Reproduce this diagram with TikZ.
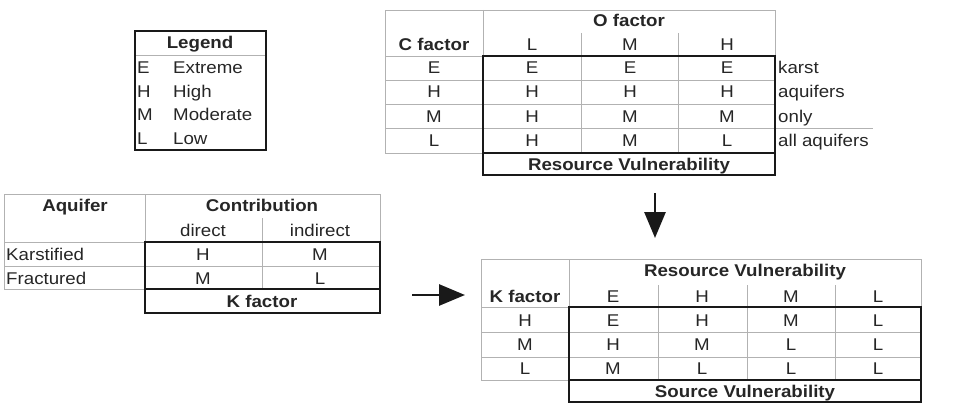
\documentclass[tikz,border=0pt]{standalone}
\usepackage{fontspec}
\setmainfont{Liberation Sans}[FakeStretch=1.1]
\usetikzlibrary{arrows.meta}
\tikzset{
  thin/.style={draw=black!30, line width=0.9pt},
  thick/.style={draw=black!90, line width=2.2pt},
  lbl/.style={inner sep=0pt, anchor=base, text=black!85, font=\fontsize{17}{20}\selectfont},
  lblb/.style={lbl, font=\fontsize{17}{20}\selectfont\bfseries},
  lblw/.style={lbl, anchor=base west},
  bigarrow/.style={draw=black!90, line width=2.8pt, -{Triangle[width=21pt,length=26pt]}}
}
\begin{document}
\begin{tikzpicture}[x=1pt,y=-1pt]
\useasboundingbox (0,0) rectangle (975,404);
% ---------------- Legend ----------------
\draw[thin] (135,55) -- (266,55);
\draw[black!90, line width=1.3pt] (135,150) -- (135,31) -- (266,31) -- (266,150);
\draw[black!90, line width=2.2pt] (134,150) -- (267,150);
\node[lblb] (leg) at (200,49) {Legend};
\node[lblw] (lE) at (137,74) {E};
\node[lblw] (lEw) at (173,74) {Extreme};
\node[lblw] (lH) at (137,98) {H};
\node[lblw] (lHw) at (173,98) {High};
\node[lblw] (lM) at (137,121) {M};
\node[lblw] (lMw) at (173,121) {Moderate};
\node[lblw] (lL) at (137,144) {L};
\node[lblw] (lLw) at (173,144) {Low};
% ---------------- Top table (C / O factor) ----------------
\draw[thin] (385,153) -- (385,10) -- (775,10) -- (775,56);
\draw[thin] (483,10) -- (483,56);
\draw[thin] (581,33) -- (581,153);
\draw[thin] (678,33) -- (678,153);
\foreach \yy in {56,80,104,128} \draw[thin] (385,\yy) -- (483,\yy);
\foreach \yy in {80,104,128} \draw[thin] (483,\yy) -- (775,\yy);
\draw[thin] (385,153) -- (483,153);
\draw[thin] (775,128) -- (873,128);
\draw[thick] (483,56) rectangle (775,175);
\draw[thick] (483,153) -- (775,153);
\node[lblb] (ofac) at (629,27) {O factor};
\node[lblb] (cfac) at (434,51) {C factor};
\node[lbl] (oL) at (532,51) {L};
\node[lbl] (oM) at (630,51) {M};
\node[lbl] (oH) at (727,51) {H};
\foreach \r/\yy/\c/\a/\b/\d in {1/74/E/E/E/E, 2/98/H/H/H/H, 3/122/M/H/M/M, 4/146/L/H/M/L}{
  \node[lbl] (tc\r) at (434,\yy) {\c};
  \node[lbl] (ta\r) at (532,\yy) {\a};
  \node[lbl] (tb\r) at (630,\yy) {\b};
  \node[lbl] (td\r) at (727,\yy) {\d};
}
\node[lblw] (k1) at (778,74) {karst};
\node[lblw] (k2) at (778,98) {aquifers};
\node[lblw] (k3) at (778,122) {only};
\node[lblw] (k4) at (778,146) {all aquifers};
\node[lblb] (rv) at (629,170) {Resource Vulnerability};
% ---------------- Left table (Aquifer) ----------------
\draw[thin] (4,289) -- (4,194) -- (380,194) -- (380,242);
\draw[thin] (145,194) -- (145,242);
\draw[thin] (262,218) -- (262,289);
\draw[thin] (4,242) -- (145,242);
\draw[thin] (4,266) -- (380,266);
\draw[thin] (4,289) -- (145,289);
\draw[thick] (145,242) rectangle (380,313);
\draw[thick] (145,289) -- (380,289);
\node[lblb] (aq) at (75,211) {Aquifer};
\node[lblb] (contr) at (262,211) {Contribution};
\node[lbl] (dir) at (203,236) {direct};
\node[lbl] (indir) at (320,236) {indirect};
\node[lblw] (kars) at (6,260) {Karstified};
\node[lblw] (frac) at (6,284) {Fractured};
\node[lbl] (a11) at (203,260) {H};
\node[lbl] (a12) at (320,260) {M};
\node[lbl] (a21) at (203,284) {M};
\node[lbl] (a22) at (320,284) {L};
\node[lblb] (kf) at (262,307) {K factor};
% ---------------- Bottom table (K factor / Resource Vulnerability) ----------------
\draw[thin] (481,380) -- (481,259) -- (921,259) -- (921,307);
\draw[thin] (569,259) -- (569,307);
\foreach \xx in {658,747,835} \draw[thin] (\xx,285) -- (\xx,380);
\draw[thin] (481,307) -- (569,307);
\foreach \yy in {332,357} \draw[thin] (481,\yy) -- (921,\yy);
\draw[thin] (481,380) -- (569,380);
\draw[thick] (569,307) rectangle (921,402);
\draw[thick] (569,380) -- (921,380);
\node[lblb] (rv2) at (745,276) {Resource Vulnerability};
\node[lblb] (kf2) at (525,302) {K factor};
\node[lbl] (hE) at (613,302) {E};
\node[lbl] (hH) at (702,302) {H};
\node[lbl] (hM) at (791,302) {M};
\node[lbl] (hL) at (878,302) {L};
\foreach \r/\yy/\k/\a/\b/\c/\d in {1/326/H/E/H/M/L, 2/350/M/H/M/L/L, 3/374/L/M/L/L/L}{
  \node[lbl] (bk\r) at (525,\yy) {\k};
  \node[lbl] (ba\r) at (613,\yy) {\a};
  \node[lbl] (bb\r) at (702,\yy) {\b};
  \node[lbl] (bc\r) at (791,\yy) {\c};
  \node[lbl] (bd\r) at (878,\yy) {\d};
}
\node[lblb] (sv) at (745,397) {Source Vulnerability};
% ---------------- Arrows ----------------
\coordinate (dA) at (655,193);
\coordinate (dB) at (655,238);
\coordinate (rA) at (412,295);
\coordinate (rB) at (465,295);
\draw[bigarrow] (dA) -- (dB);
\draw[bigarrow] (rA) -- (rB);
\end{tikzpicture}
\end{document}
